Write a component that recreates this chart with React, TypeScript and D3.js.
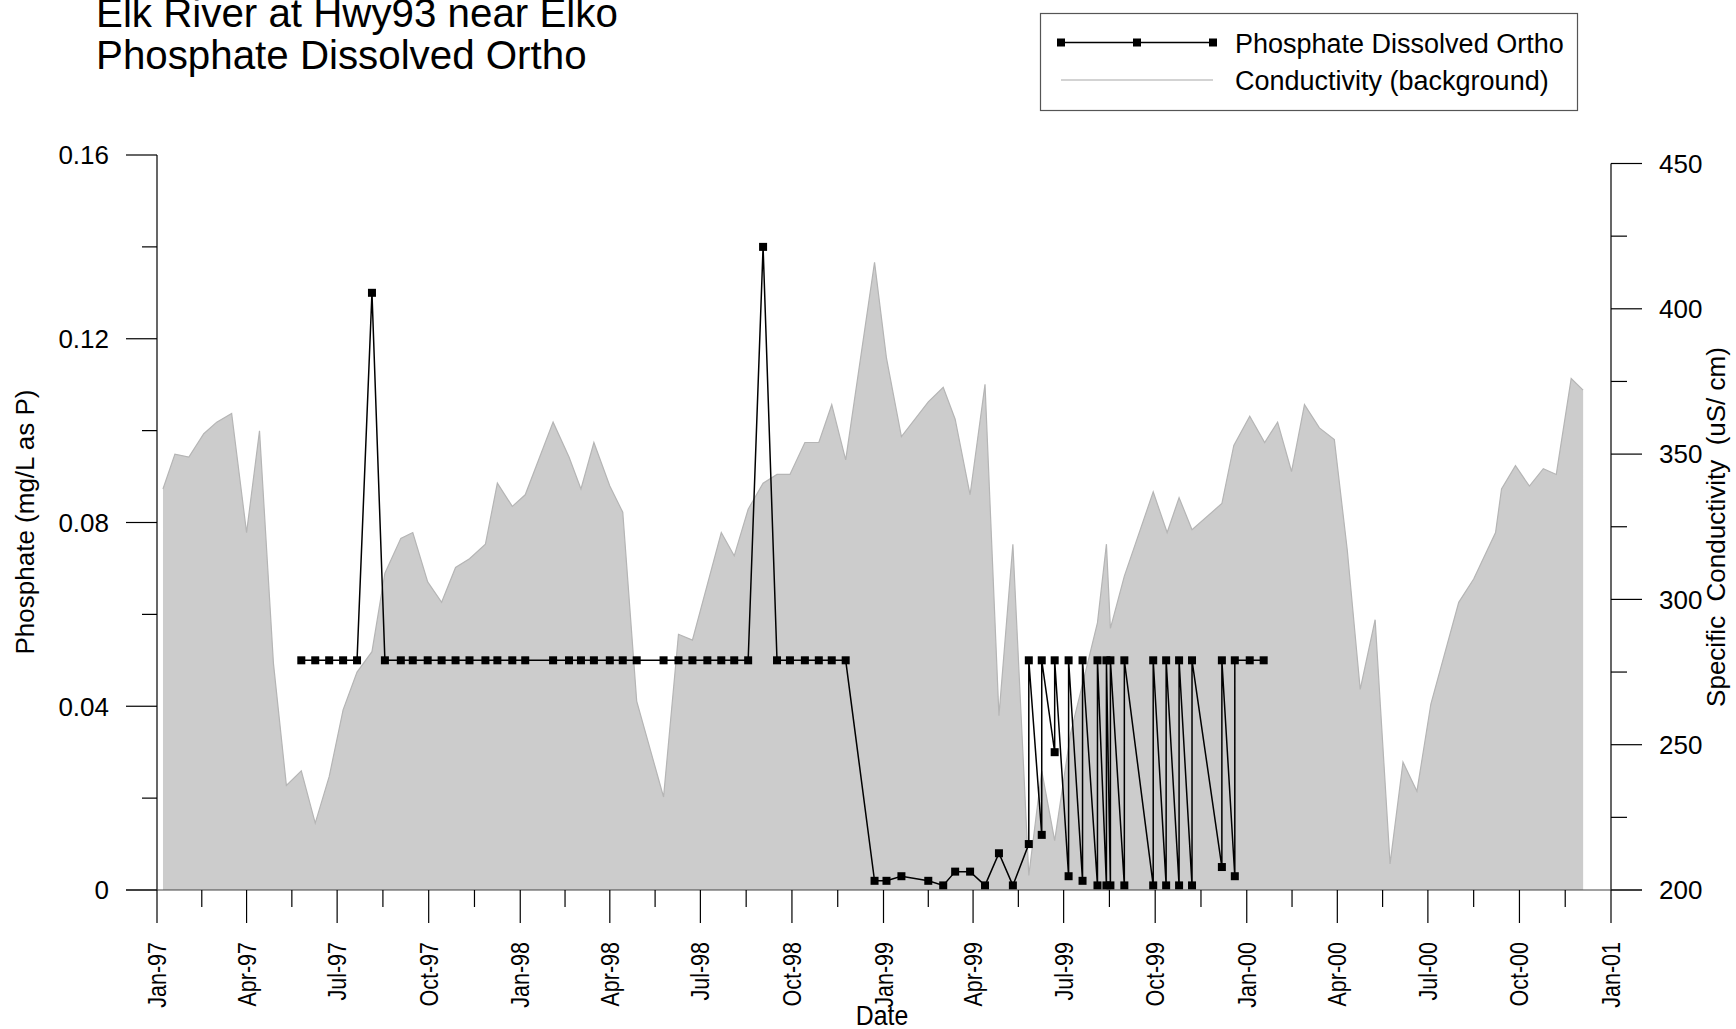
import React, { useEffect, useRef } from 'react';
import * as d3 from 'd3';

// conductivity (background), right axis
const condDates = [
  '1997-01-07', '1997-01-19', '1997-02-02', '1997-02-17', '1997-03-02', '1997-03-17', '1997-04-01', '1997-04-14',
  '1997-04-28', '1997-05-11', '1997-05-26', '1997-06-09', '1997-06-23', '1997-07-07', '1997-07-21', '1997-08-05',
  '1997-08-18', '1997-09-03', '1997-09-15', '1997-09-30', '1997-10-14', '1997-10-28', '1997-11-11', '1997-11-27',
  '1997-12-09', '1997-12-24',
  '1998-01-06', '1998-02-03', '1998-02-19', '1998-03-03', '1998-03-16', '1998-04-01', '1998-04-14', '1998-04-28',
  '1998-05-25', '1998-06-09', '1998-06-23', '1998-07-22', '1998-08-04', '1998-08-18', '1998-09-02', '1998-09-16',
  '1998-09-29', '1998-10-14', '1998-10-28', '1998-11-10', '1998-11-24', '1998-12-23',
  '1999-01-04', '1999-01-19', '1999-02-15', '1999-03-02', '1999-03-14', '1999-03-29', '1999-04-13', '1999-04-27',
  '1999-05-11', '1999-05-27', '1999-06-09', '1999-06-22', '1999-07-08', '1999-08-04', '1999-08-13', '1999-08-17',
  '1999-08-31', '1999-09-29', '1999-10-13', '1999-10-25', '1999-11-07', '1999-12-07', '1999-12-19',
  '2000-01-04', '2000-01-19', '2000-02-01', '2000-02-15', '2000-02-28', '2000-03-14', '2000-03-29', '2000-04-11',
  '2000-04-24', '2000-05-09', '2000-05-24', '2000-06-06', '2000-06-20', '2000-07-04', '2000-08-01', '2000-08-16',
  '2000-09-07', '2000-09-13', '2000-09-27', '2000-10-11', '2000-10-25', '2000-11-07', '2000-11-22', '2000-12-04',
];
const condValues = [
  338, 350, 349, 357, 361, 364, 323, 358, 278, 236, 241, 223, 239, 262, 275, 282, 309, 321, 323, 306, 299, 311, 314, 319, 340, 332,
  336, 361, 349, 338, 354, 339, 330, 265, 232, 288, 286, 323, 315, 331, 340, 343, 343, 354, 354, 367, 348, 416,
  383, 356, 368, 373, 362, 336, 374, 260, 319, 205, 241, 217, 254, 292, 319, 290, 308, 337, 323, 335, 324, 333, 353,
  363, 354, 361, 344, 367, 359, 355, 317, 269, 293, 209, 244, 234, 264, 299, 307, 323, 338, 346, 339, 345, 343, 376, 372,
];

// phosphate dissolved ortho, left axis (some dates carry two results)
const phosDates = [
  '1997-05-26', '1997-06-09', '1997-06-23', '1997-07-07', '1997-07-21', '1997-08-05', '1997-08-18', '1997-09-03',
  '1997-09-15', '1997-09-30', '1997-10-14', '1997-10-28', '1997-11-11', '1997-11-27', '1997-12-09', '1997-12-24',
  '1998-01-06', '1998-02-03', '1998-02-19', '1998-03-03', '1998-03-16', '1998-04-01', '1998-04-14', '1998-04-28',
  '1998-05-25', '1998-06-09', '1998-06-23', '1998-07-08', '1998-07-22', '1998-08-04', '1998-08-18', '1998-09-02',
  '1998-09-16', '1998-09-29', '1998-10-14', '1998-10-28', '1998-11-10', '1998-11-24', '1998-12-23',
  '1999-01-04', '1999-01-19', '1999-02-15', '1999-03-02', '1999-03-14', '1999-03-29', '1999-04-13', '1999-04-27',
  '1999-05-11', '1999-05-27', '1999-05-27', '1999-06-09', '1999-06-09', '1999-06-22', '1999-06-22', '1999-07-06',
  '1999-07-06', '1999-07-20', '1999-07-20', '1999-08-04', '1999-08-04', '1999-08-13', '1999-08-13', '1999-08-17',
  '1999-08-17', '1999-08-31', '1999-08-31', '1999-09-29', '1999-09-29', '1999-10-12', '1999-10-12', '1999-10-25',
  '1999-10-25', '1999-11-07', '1999-11-07', '1999-12-07', '1999-12-07', '1999-12-20', '1999-12-20',
  '2000-01-04', '2000-01-18',
];
const phosValues = [
  0.05, 0.05, 0.05, 0.05, 0.05, 0.13, 0.05, 0.05,
  0.05, 0.05, 0.05, 0.05, 0.05, 0.05, 0.05, 0.05,
  0.05, 0.05, 0.05, 0.05, 0.05, 0.05, 0.05, 0.05,
  0.05, 0.05, 0.05, 0.05, 0.05, 0.05, 0.05, 0.14,
  0.05, 0.05, 0.05, 0.05, 0.05, 0.05, 0.002,
  0.002, 0.003, 0.002, 0.001, 0.004, 0.004, 0.001, 0.008,
  0.001, 0.01, 0.05, 0.012, 0.05, 0.03, 0.05, 0.003,
  0.05, 0.002, 0.05, 0.001, 0.05, 0.001, 0.05, 0.001,
  0.05, 0.001, 0.05, 0.001, 0.05, 0.001, 0.05, 0.001,
  0.05, 0.001, 0.05, 0.005, 0.05, 0.003, 0.05,
  0.05, 0.05,
];

const leftTicks = [0, 0.04, 0.08, 0.12, 0.16];
const leftMinor = [0.02, 0.06, 0.1, 0.14];
const rightTicks = [200, 250, 300, 350, 400, 450];
const rightMinor = [225, 275, 325, 375, 425];
const titleLines = ['Elk River at Hwy93 near Elko', 'Phosphate Dissolved Ortho'];
const legendLabels = ['Phosphate Dissolved Ortho', 'Conductivity (background)'];

const FONT = '"Liberation Sans", Arial, Helvetica, sans-serif';

const App: React.FC = () => {
  const svgRef = useRef<SVGSVGElement | null>(null);

  useEffect(() => {
    const svg = d3.select(svgRef.current);
    svg.selectAll('*').remove();

    const parse = d3.timeParse('%Y-%m-%d');
    const cond = condDates.map((d, i) => ({ date: parse(d) as Date, value: condValues[i] }));
    const phos = phosDates.map((d, i) => ({ date: parse(d) as Date, value: phosValues[i] }));

    const x = d3.scaleTime().domain([new Date(1997, 0, 1), new Date(2001, 0, 1)]).range([157, 1611]);
    const yL = d3.scaleLinear().domain([0, 0.16]).range([890, 155]);
    const yR = d3.scaleLinear().domain([200, 450]).range([890, 163.5]);

    const g = svg.append('g').style('font-family', FONT);

    // background conductivity area
    const area = d3.area<{ date: Date; value: number }>()
      .x((d) => x(d.date))
      .y0(yR(200))
      .y1((d) => yR(d.value));
    g.append('path').datum(cond).attr('d', area).attr('fill', '#cccccc').attr('stroke', 'none');
    const condLine = d3.line<{ date: Date; value: number }>().x((d) => x(d.date)).y((d) => yR(d.value));
    g.append('path').datum(cond).attr('d', condLine).attr('fill', 'none').attr('stroke', '#b5b5b5').attr('stroke-width', 1.2);

    // phosphate line + markers
    const line = d3.line<{ date: Date; value: number }>().x((d) => x(d.date)).y((d) => yL(d.value));
    g.append('path').datum(phos).attr('d', line).attr('fill', 'none').attr('stroke', '#000').attr('stroke-width', 1.5);
    g.selectAll('.pm').data(phos).enter().append('rect')
      .attr('class', 'pm')
      .attr('x', (d) => x(d.date) - 4)
      .attr('y', (d) => yL(d.value) - 4)
      .attr('width', 8)
      .attr('height', 8)
      .attr('fill', '#000');

    // axes
    const ax = g.append('g').attr('stroke', '#000').attr('stroke-width', 1.2).attr('fill', 'none');
    ax.append('line').attr('x1', 157).attr('x2', 157).attr('y1', yL(0.16)).attr('y2', 890);
    ax.append('line').attr('x1', 1611).attr('x2', 1611).attr('y1', yR(450)).attr('y2', 890);
    ax.append('line').attr('x1', 126).attr('x2', 1642).attr('y1', 890).attr('y2', 890).attr('stroke', '#444');

    leftTicks.forEach((v) => ax.append('line').attr('x1', 126).attr('x2', 157).attr('y1', yL(v)).attr('y2', yL(v)));
    leftMinor.forEach((v) => ax.append('line').attr('x1', 142).attr('x2', 157).attr('y1', yL(v)).attr('y2', yL(v)));
    rightTicks.forEach((v) => ax.append('line').attr('x1', 1611).attr('x2', 1642).attr('y1', yR(v)).attr('y2', yR(v)));
    rightMinor.forEach((v) => ax.append('line').attr('x1', 1611).attr('x2', 1627).attr('y1', yR(v)).attr('y2', yR(v)));

    const major = d3.timeMonth.every(3)!.range(new Date(1997, 0, 1), new Date(2001, 0, 2));
    major.forEach((d) => ax.append('line').attr('x1', x(d)).attr('x2', x(d)).attr('y1', 890).attr('y2', 923));
    d3.pairs(major).forEach(([a, b]) => {
      const m = (x(a) + x(b)) / 2;
      ax.append('line').attr('x1', m).attr('x2', m).attr('y1', 890).attr('y2', 907);
    });

    // tick labels
    g.selectAll('.lt').data(leftTicks).enter().append('text')
      .attr('x', 109).attr('y', (d) => yL(d) + 9.3)
      .attr('text-anchor', 'end').attr('font-size', 26)
      .text((d) => (d === 0 ? '0' : d.toFixed(2)));
    g.selectAll('.rt').data(rightTicks).enter().append('text')
      .attr('x', 1659).attr('y', (d) => yR(d) + 9.3)
      .attr('font-size', 26)
      .text((d) => String(d));

    const fmt = d3.timeFormat('%b-%y');
    g.selectAll('.xt').data(major).enter().append('text')
      .attr('transform', (d) => `translate(${x(d) + 9},942) rotate(-90) scale(0.86,1)`)
      .attr('text-anchor', 'end').attr('font-size', 25)
      .text((d) => fmt(d));

    // axis titles
    g.append('text').attr('transform', 'translate(882,1025) scale(0.92,1)')
      .attr('text-anchor', 'middle').attr('font-size', 27).text('Date');
    g.append('text').attr('transform', 'translate(34,522) rotate(-90)')
      .attr('text-anchor', 'middle').attr('font-size', 26).text('Phosphate (mg/L as P)');
    g.append('text').attr('transform', 'translate(1725,527) rotate(-90)')
      .attr('text-anchor', 'middle').attr('font-size', 26)
      .attr('xml:space', 'preserve').style('white-space', 'pre')
      .text('Specific  Conductivity  (uS/ cm)');

    // title
    titleLines.forEach((t, i) => {
      g.append('text').attr('x', 96).attr('y', 27 + i * 42).attr('font-size', 40.3).text(t);
    });

    // legend
    const lg = g.append('g');
    lg.append('rect').attr('x', 1040.5).attr('y', 13.5).attr('width', 537).attr('height', 97)
      .attr('fill', '#fff').attr('stroke', '#555').attr('stroke-width', 1.2);
    lg.append('line').attr('x1', 1061).attr('x2', 1213).attr('y1', 42.5).attr('y2', 42.5)
      .attr('stroke', '#000').attr('stroke-width', 1.5);
    [1061, 1137, 1213].forEach((mx) => {
      lg.append('rect').attr('x', mx - 4).attr('y', 38.5).attr('width', 8).attr('height', 8).attr('fill', '#000');
    });
    lg.append('line').attr('x1', 1061).attr('x2', 1213).attr('y1', 80).attr('y2', 80)
      .attr('stroke', '#c4c4c4').attr('stroke-width', 1.5);
    legendLabels.forEach((t, i) => {
      lg.append('text').attr('x', 1235).attr('y', 52.5 + i * 37).attr('font-size', 27).text(t);
    });
  }, []);

  return (
    <svg
      ref={svgRef}
      width={1736}
      height={1029}
      style={{ position: 'absolute', left: 0, top: 0, display: 'block', background: '#fff' }}
    />
  );
};

export default App;
